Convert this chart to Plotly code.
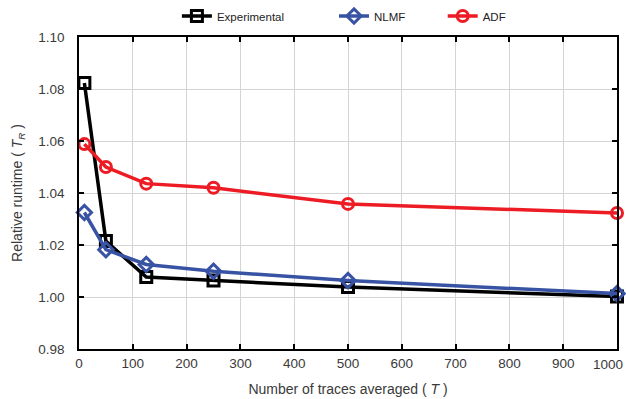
import plotly.graph_objects as go

T = [10, 50, 125, 250, 500, 1000]
experimental = [1.0823, 1.0215, 1.0077, 1.0063, 1.0038, 1.0002]
nlmf = [1.0325, 1.0182, 1.0125, 1.0099, 1.0063, 1.0013]
adf = [1.0588, 1.0500, 1.0436, 1.0420, 1.0358, 1.0323]

x_ticks = [0, 100, 200, 300, 400, 500, 600, 700, 800, 900, 1000]
x_ticktext = ["0", "100", "200", "300", "400", "500", "600", "700", "800", "900", ""]
last_x_label = "1000"

series = [
    ("Experimental", experimental, "#000000", "square-open", "legend", 0.182),
    ("NLMF", nlmf, "#3953a4", "diamond-open", "legend2", 0.474),
    ("ADF", adf, "#ed1c24", "circle-open", "legend3", 0.676),
]

FONT = "Liberation Sans, Arial"

fig = go.Figure()
legends = {}
for name, vals, color, sym, leg, lx in series:
    fig.add_trace(go.Scatter(
        x=T, y=vals, name=name, mode="lines+markers",
        line=dict(color=color, width=3.5),
        marker=dict(symbol=sym, size=11, color=color, line=dict(color=color, width=3)),
        cliponaxis=False, legend=leg,
    ))
    legends[leg] = dict(orientation="h", x=lx, xanchor="left", y=1.0673, yanchor="middle",
                        font=dict(family=FONT, size=11.5, color="#222222"),
                        bgcolor="rgba(0,0,0,0)")

axis_common = dict(
    showline=True, linecolor="#000000", linewidth=1.5, mirror="allticks",
    ticks="inside", ticklen=5, tickwidth=1.5, tickcolor="#000000",
    showgrid=True, gridcolor="#d4d4d4", gridwidth=1, zeroline=False,
    tickfont=dict(family=FONT, size=13.5, color="#3a3a3a"),
    automargin=False,
)

fig.update_layout(
    width=626, height=399,
    margin=dict(l=79, r=9, t=37, b=50, autoexpand=False),
    paper_bgcolor="white", plot_bgcolor="white",
    font=dict(family=FONT, color="#3a3a3a"),
    xaxis=dict(range=[0, 1000], tickvals=x_ticks, ticktext=x_ticktext, ticklabelstandoff=1, **axis_common,
               title=dict(text="Number of traces averaged ( <i>T</i> )", font=dict(size=14), standoff=14)),
    yaxis=dict(range=[0.98, 1.10], dtick=0.02, tickformat=".2f", ticklabelstandoff=10, **axis_common,
               title=dict(text="Relative runtime ( <i>T<sub>R</sub></i> )", font=dict(size=14), standoff=12)),
    showlegend=True,
    **legends,
)

fig.add_annotation(
    x=x_ticks[-1], xref="x", y=0, yref="paper", text=last_x_label, showarrow=False,
    xanchor="right", yanchor="top", xshift=8, yshift=-6,
    font=dict(family=FONT, size=13.5, color="#3a3a3a"),
)

fig.write_html("out.html")
